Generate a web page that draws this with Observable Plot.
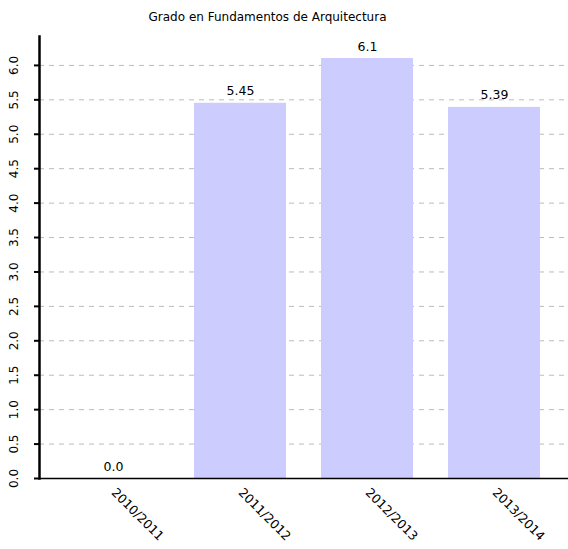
<!DOCTYPE html>
<html>
<head>
<meta charset="utf-8">
<script src="https://cdn.jsdelivr.net/npm/d3@7"></script>
<script src="https://cdn.jsdelivr.net/npm/@observablehq/plot@0.6"></script>
<style>
  body { margin: 0; background: #fff; font-family: "DejaVu Sans", sans-serif; }
  #title { height: 28px; line-height: 34px; text-align: center; font-size: 12px; color: #000; padding-right: 33px; }
  svg { display: block; }
</style>
</head>
<body>
<div id="title">Grado en Fundamentos de Arquitectura</div>
<div id="chart"></div>
<script>
const years = ["2010/2011", "2011/2012", "2012/2013", "2013/2014"];
const values = [0, 5.45, 6.1, 5.39];
const valueLabels = ["0.0", "5.45", "6.1", "5.39"];
const yTicks = d3.range(0, 13).map(i => i * 0.5);

const data = years.map((y, i) => ({year: y, value: values[i], label: valueLabels[i]}));

const chart = Plot.plot({
  width: 568,
  height: 521,
  marginLeft: 39,
  marginRight: 0,
  marginTop: 8,
  marginBottom: 71,
  style: {fontFamily: "DejaVu Sans, sans-serif", fontSize: "11px", color: "#000", background: "#fff"},
  x: {domain: years, paddingInner: 0.273, paddingOuter: 0.203, label: null},
  y: {domain: [0, 6.42], label: null},
  marks: [
    Plot.gridY(yTicks, {stroke: "#bbb", strokeOpacity: 1, strokeDasharray: "5,5", strokeWidth: 1}),
    Plot.barY(data, {x: "year", y: "value", fill: "#ccccff"}),
    Plot.text(data, {x: "year", y: "value", text: "label", dy: -12, fontSize: 12.5, fill: "#000"}),
    Plot.axisY(yTicks, {tickFormat: d3.format(".1f"), tickSize: 5, tickRotate: -90, tickPadding: 17, stroke: "#000", strokeWidth: 2, fontSize: 12}),
    Plot.axisX({tickSize: 0, tickRotate: 45, tickPadding: 12, fontSize: 12.5}),
    Plot.ruleY([0], {stroke: "#000", strokeWidth: 1.5}),
    Plot.frame({anchor: "left", stroke: "#000", strokeWidth: 2.5})
  ]
});
document.getElementById("chart").appendChild(chart);
</script>
</body>
</html>
